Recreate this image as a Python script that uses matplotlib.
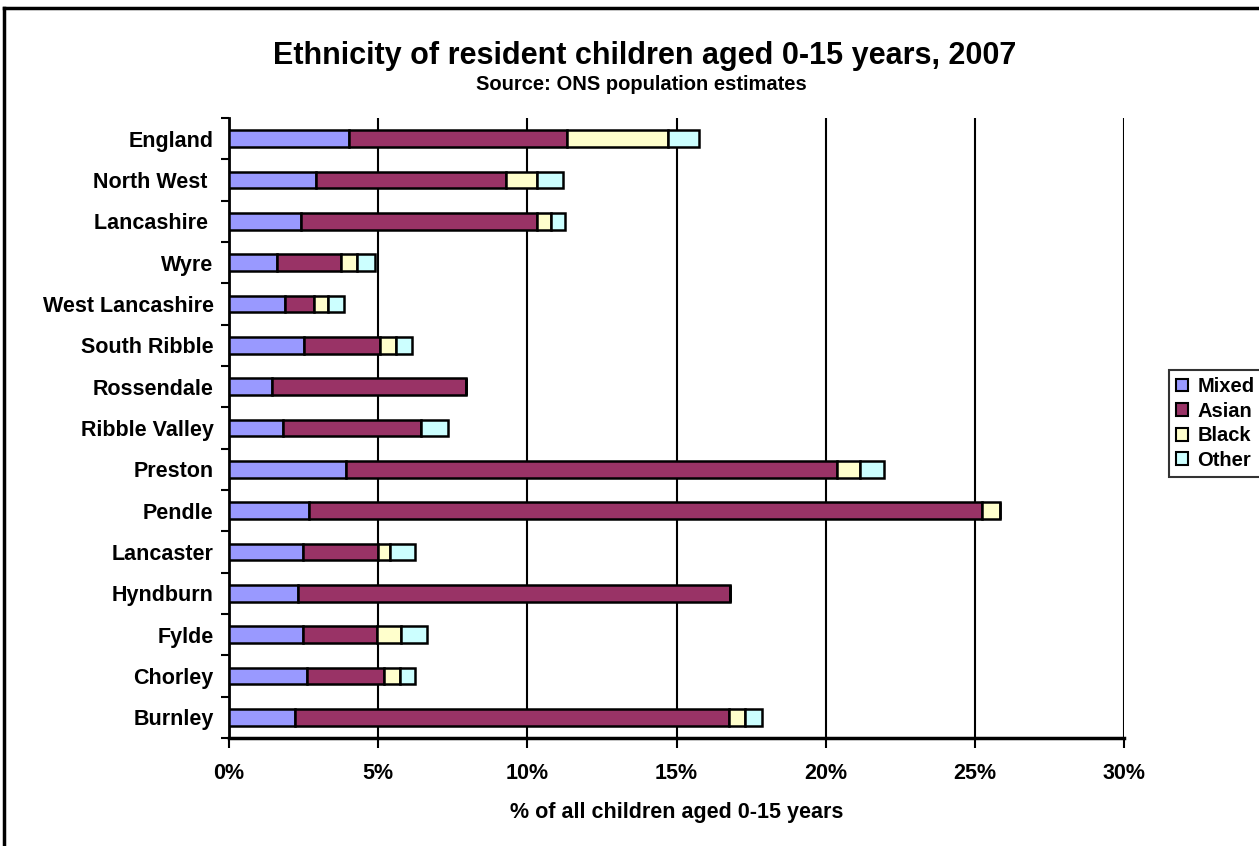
import matplotlib
matplotlib.use('Agg')
import matplotlib.pyplot as plt
from matplotlib.lines import Line2D
from matplotlib.ticker import FuncFormatter, MultipleLocator
import numpy as np

plt.rcParams['font.family'] = ['Liberation Sans', 'DejaVu Sans']
plt.rcParams['font.weight'] = 'bold'

# Districts, top to bottom as shown
areas = ['England', 'North West ', 'Lancashire ', 'Wyre', 'West Lancashire',
         'South Ribble', 'Rossendale', 'Ribble Valley', 'Preston', 'Pendle',
         'Lancaster', 'Hyndburn', 'Fylde', 'Chorley', 'Burnley']

# % of children aged 0-15 in each ethnic group
mixed = [4.03, 2.91, 2.41, 1.62, 1.87, 2.52, 1.43, 1.82, 3.91, 2.67, 2.48, 2.30, 2.48, 2.60, 2.22]
asian = [7.30, 6.39, 7.92, 2.15, 0.99, 2.55, 6.52, 4.63, 16.46, 22.57, 2.52, 14.51, 2.47, 2.61, 14.54]
black = [3.37, 1.03, 0.47, 0.53, 0.46, 0.52, 0.00, 0.00, 0.79, 0.61, 0.39, 0.00, 0.83, 0.51, 0.53]
other = [1.05, 0.86, 0.46, 0.58, 0.52, 0.53, 0.00, 0.90, 0.78, 0.00, 0.85, 0.00, 0.86, 0.52, 0.56]

groups = ['Mixed', 'Asian', 'Black', 'Other']
colours = ['#9999FF', '#993366', '#FFFFCC', '#CCFFFF']

fig = plt.figure(figsize=(12.59, 8.46), dpi=100)
ax = fig.add_axes([229 / 1259, 108 / 846, (1124 - 229) / 1259, (738 - 118) / 846])

y = np.arange(len(areas))[::-1]
left = np.zeros(len(areas))
for vals, name, col in zip([mixed, asian, black, other], groups, colours):
    vals = np.array(vals)
    ax.barh(y, vals, left=left, height=0.4, color=col, edgecolor='black',
            linewidth=1.8, label=name, zorder=3)
    left += vals

ax.set_xlim(0, 30)
ax.set_ylim(-0.5, len(areas) - 0.5)
ax.xaxis.set_major_locator(MultipleLocator(5))
ax.xaxis.set_major_formatter(FuncFormatter(lambda v, p: f'{v:.0f}%'))
ax.grid(axis='x', color='black', linewidth=1.5, zorder=0)

ax.set_yticks(y)
ax.set_yticklabels(areas, fontsize=15.5, fontweight='bold')
ax.set_yticks(np.arange(-0.5, len(areas), 1), minor=True)
ax.tick_params(axis='y', which='major', length=0, pad=11)
ax.tick_params(axis='y', which='minor', length=6, width=1.5, direction='out')
ax.tick_params(axis='x', length=7, width=1.5, direction='out', pad=11, labelsize=15.5)
for lab in ax.get_xticklabels():
    lab.set_fontweight('bold')

for side in ['top', 'right']:
    ax.spines[side].set_visible(False)
ax.spines['left'].set_linewidth(2)
ax.spines['bottom'].set_linewidth(2.5)

ax.set_xlabel('% of all children aged 0-15 years', fontsize=15.5, fontweight='bold', labelpad=13)

fig.text(645 / 1259, 1 - 56 / 846, 'Ethnicity of resident children aged 0-15 years, 2007',
         ha='center', va='center', fontsize=22, fontweight='bold')
fig.text(641 / 1259, 1 - 84 / 846, 'Source: ONS population estimates',
         ha='center', va='center', fontsize=14.5, fontweight='bold')

leg = fig.legend(loc='upper left', bbox_to_anchor=(1169 / 1259, 1 - 370 / 846),
                 fontsize=14.5, frameon=True, fancybox=False, handlelength=0.6,
                 handleheight=0.6, handletextpad=0.45, borderpad=0.35,
                 borderaxespad=0, labelspacing=0.28)
leg.get_frame().set_edgecolor('black')
leg.get_frame().set_linewidth(1.5)
for t in leg.get_texts():
    t.set_fontweight('bold')
for h in leg.legend_handles:
    h.set_linewidth(1.5)

# outer chart frame
fig.add_artist(Line2D([4 / 1259, 4 / 1259], [0, 1 - 8 / 846], color='black', linewidth=2.5))
fig.add_artist(Line2D([4 / 1259, 1], [1 - 8 / 846, 1 - 8 / 846], color='black', linewidth=2.5))

fig.savefig('out.png', dpi=100, facecolor='white')
